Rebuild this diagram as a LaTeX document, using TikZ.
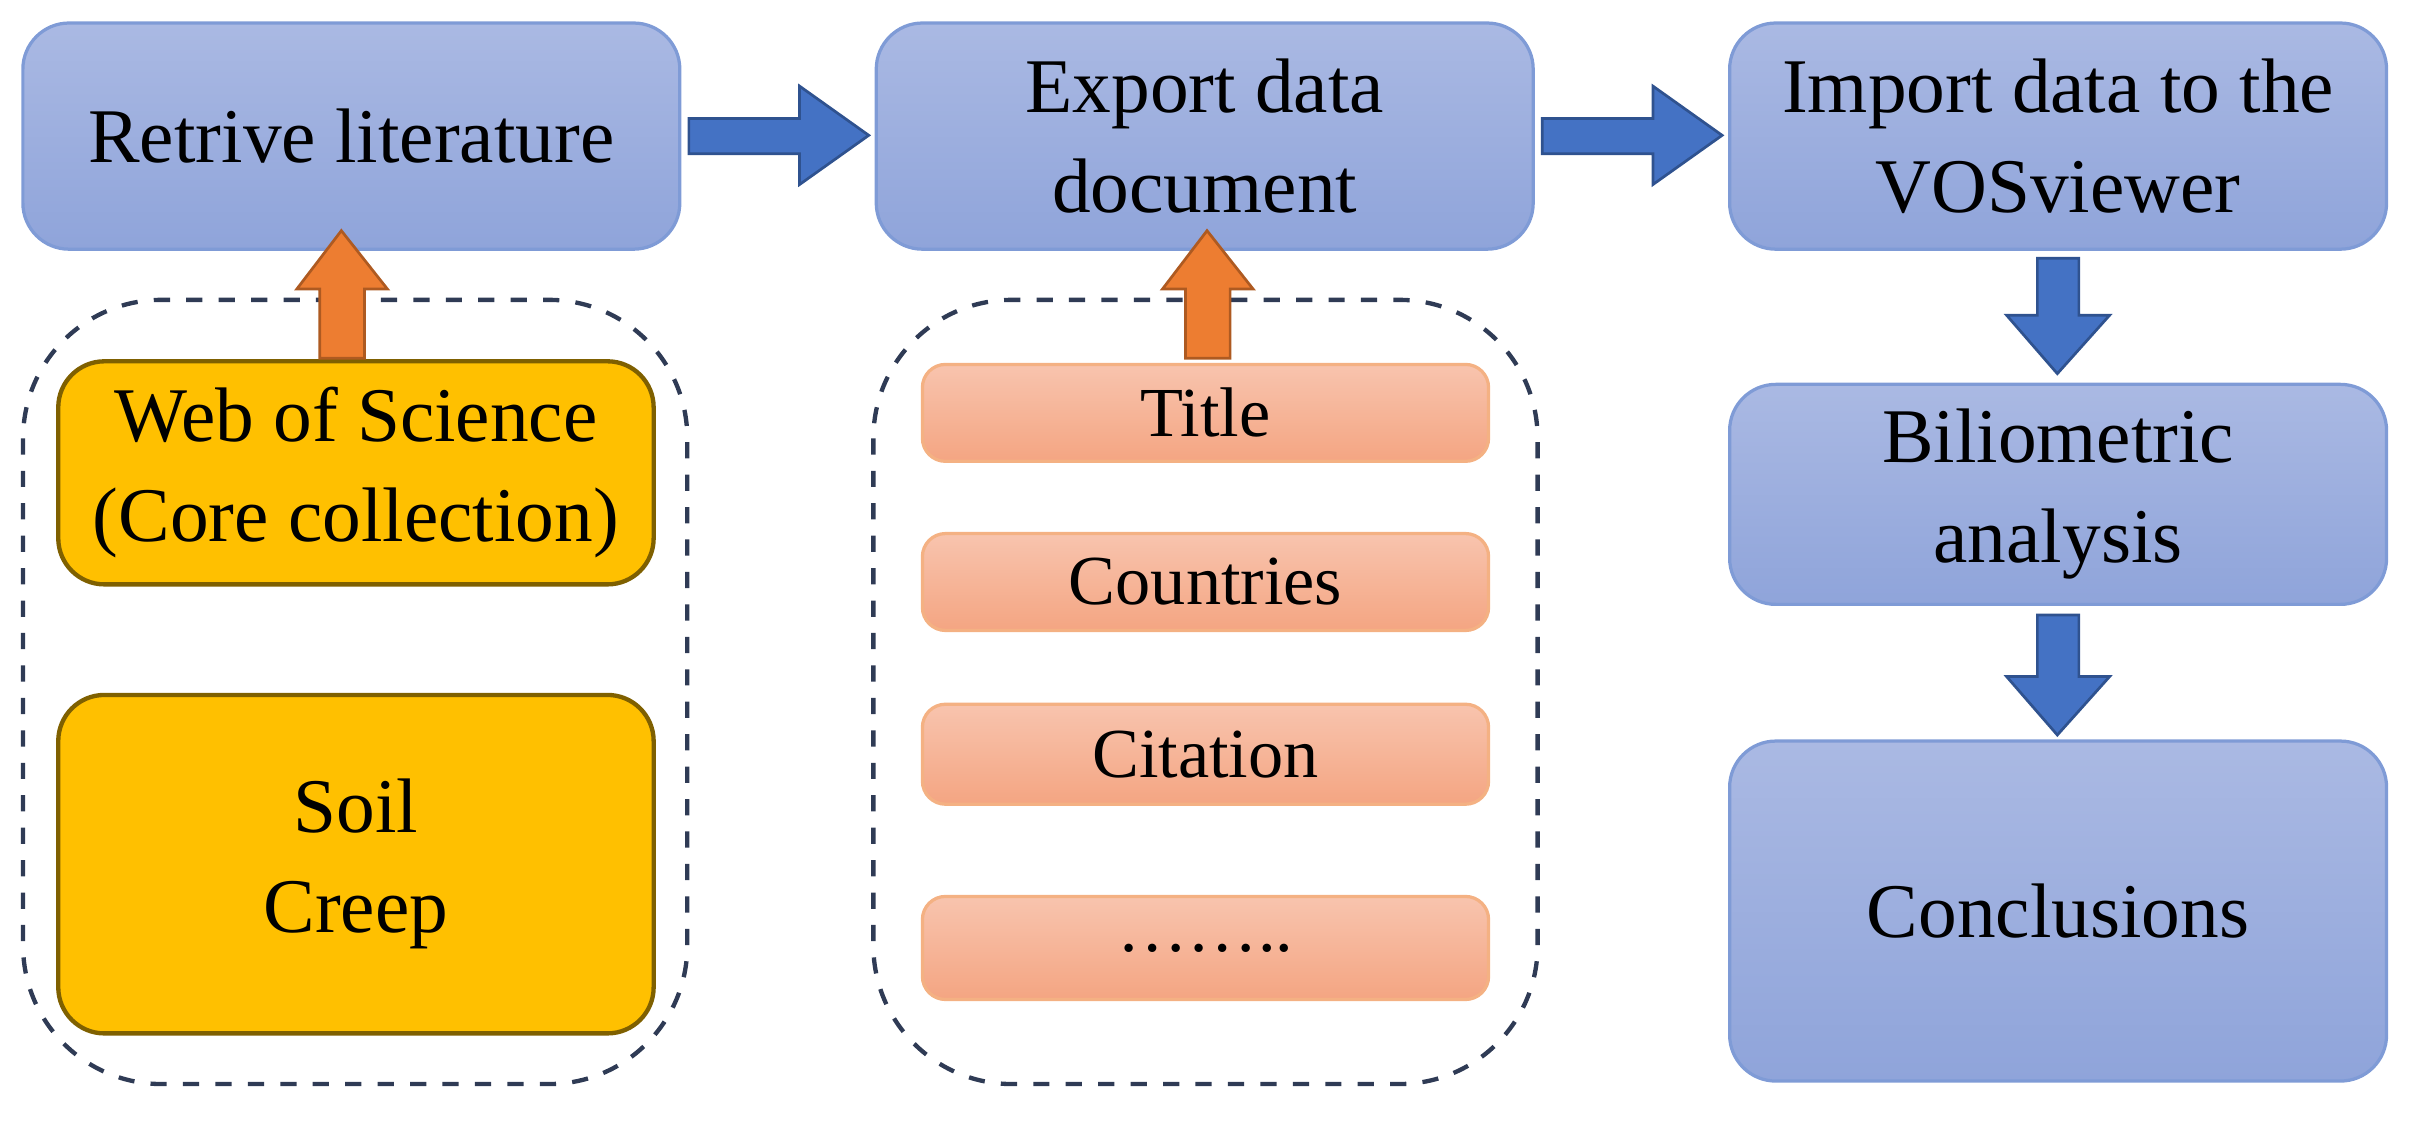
\documentclass[tikz,border=0pt]{standalone}
\usepackage{fontspec}
\setmainfont{Liberation Serif}
\begin{document}
\begin{tikzpicture}[x=0.01cm,y=-0.01cm,
 bbox/.style={rounded corners=0.3cm,top color=bt,bottom color=bb,draw=bd,line width=0.6pt,align=center,font=\fontsize{14.3}{18.5}\selectfont},
 ybox/.style={rounded corners=0.3cm,draw=yd,fill=yf,line width=0.8pt,align=center,font=\fontsize{14.3}{18.5}\selectfont},
 sbox/.style={rounded corners=0.15cm,draw=sd,top color=st,bottom color=sb,line width=0.6pt,font=\fontsize{13}{16}\selectfont},
 dbox/.style={rounded corners=0.9cm,draw=dk,dashed,line width=0.8pt},
 barr/.style={fill=ba,draw=bad,line width=0.5pt},
 oarr/.style={fill=oa,draw=oad,line width=0.5pt}]
\definecolor{bt}{HTML}{AAB9E3}\definecolor{bb}{HTML}{8FA4DA}\definecolor{bd}{HTML}{7F9BD6}
\definecolor{yf}{HTML}{FFC000}\definecolor{yd}{HTML}{7F6000}
\definecolor{st}{HTML}{F8C4AE}\definecolor{sb}{HTML}{F4A582}\definecolor{sd}{HTML}{F4B183}
\definecolor{dk}{HTML}{2F3B55}\definecolor{ba}{HTML}{4472C4}\definecolor{bad}{HTML}{2F528F}
\definecolor{oa}{HTML}{ED7D31}\definecolor{oad}{HTML}{AE5A21}
\useasboundingbox (0,0) rectangle (1568,729);
\draw[dbox] (15,195) rectangle (447,705);
\draw[dbox] (568,195) rectangle (1000,705);
\node[bbox,minimum width=4.27cm,minimum height=1.47cm] (r) at (228.5,88.5) {Retrive literature};
\node[bbox,minimum width=4.27cm,minimum height=1.47cm] (e) at (783.5,88.5) {Export data\\document};
\node[bbox,minimum width=4.27cm,minimum height=1.47cm] (i) at (1338.5,88.5) {Import data to the\\VOSviewer};
\node[bbox,minimum width=4.27cm,minimum height=1.43cm] (b) at (1338.5,321.5) {Biliometric\\analysis};
\node[bbox,minimum width=4.27cm,minimum height=2.21cm] (c) at (1338.5,592.5) {Conclusions};
\node[ybox,minimum width=3.87cm,minimum height=1.45cm] (w) at (231.5,307.5) {Web of Science\\(Core collection)};
\node[ybox,minimum width=3.87cm,minimum height=2.2cm] (s) at (231.5,562) {Soil\\Creep};
\node[sbox,minimum width=3.68cm,minimum height=0.63cm] (t1) at (784,268.5) {Title};
\node[sbox,minimum width=3.68cm,minimum height=0.63cm] (t2) at (784,378.5) {Countries};
\node[sbox,minimum width=3.68cm,minimum height=0.65cm] (t3) at (784,490.5) {Citation};
\node[sbox,minimum width=3.68cm,minimum height=0.67cm] (t4) at (784,616.5) {……..};
\draw[barr] (448,77)--(520,77)--(520,56)--(565,88)--(520,120)--(520,100)--(448,100)--cycle;
\draw[barr] (1003,77)--(1075,77)--(1075,56)--(1120,88)--(1075,120)--(1075,100)--(1003,100)--cycle;
\draw[barr] (1325,168)--(1352,168)--(1352,205)--(1372,205)--(1338,243)--(1305,205)--(1325,205)--cycle;
\draw[barr] (1325,400)--(1352,400)--(1352,440)--(1372,440)--(1338,478)--(1305,440)--(1325,440)--cycle;
\draw[oarr] (208,233)--(237,233)--(237,188)--(252,188)--(222,150)--(193,188)--(208,188)--cycle;
\draw[oarr] (771,233)--(800,233)--(800,188)--(815,188)--(785,150)--(756,188)--(771,188)--cycle;
\end{tikzpicture}
\end{document}
